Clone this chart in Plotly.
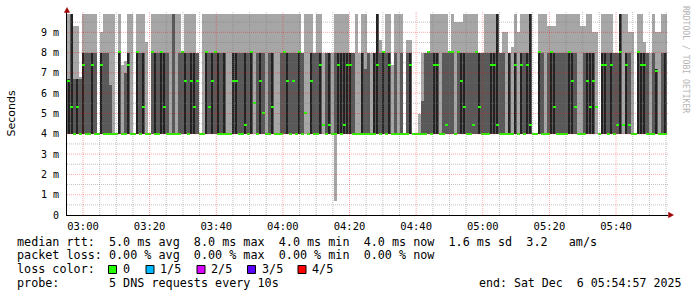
import numpy as np
import pandas as pd
import plotly.graph_objects as go

# ---------------- data (54 s bins) ----------------
rtt_max = [
    9.9, 9.9, 9.3, 9.3, 6.8, 9.9, 9.9, 9.9, 9.9, 9.9,
    4.0, 9.0, 9.9, 9.9, 9.9, 9.9, 4.0, 9.9, 7.4, 7.6,
    9.9, 9.9, 4.0, 9.9, 9.9, 9.9, 8.5, 4.0, 9.9, 9.9,
    9.9, 9.9, 9.9, 9.9, 9.9, 9.9, 9.9, 9.9, 8.0, 9.9,
    9.9, 9.9, 9.9, 8.0, 4.0, 9.9, 9.9, 9.9, 9.9, 9.9,
    9.9, 9.9, 9.9, 9.9, 9.9, 9.9, 9.9, 9.9, 9.9, 9.9,
    9.9, 9.9, 9.9, 9.9, 9.9, 9.9, 9.9, 9.9, 9.9, 9.9,
    9.9, 9.9, 9.9, 9.9, 9.9, 9.9, 9.9, 9.9, 8.0, 9.9,
    9.9, 9.9, 8.0, 9.9, 9.9, 8.0, 8.0, 8.0, 8.0, 9.9,
    9.9, 9.9, 9.9, 9.9, 8.0, 8.0, 9.9, 8.0, 9.9, 9.9,
    8.0, 8.0, 8.0, 9.9, 8.6, 8.0, 9.9, 9.9, 7.4, 9.9,
    9.9, 9.9, 4.0, 8.6, 8.6, 4.0, 4.0, 5.0, 8.0, 8.0,
    8.0, 9.9, 9.9, 9.9, 9.9, 9.9, 9.9, 8.0, 9.9, 9.5,
    9.5, 9.5, 9.9, 9.9, 9.9, 9.9, 9.9, 8.0, 8.0, 9.9,
    9.9, 9.9, 9.9, 9.9, 8.0, 9.0, 9.0, 8.0, 8.3, 9.9,
    9.0, 9.9, 9.9, 9.9, 9.9, 4.0, 4.0, 9.9, 9.9, 9.9,
    9.3, 9.3, 9.3, 9.9, 9.9, 9.9, 9.9, 9.9, 9.9, 9.9,
    9.9, 9.3, 9.3, 9.9, 9.9, 9.0, 9.0, 4.0, 9.9, 9.9,
    9.9, 9.9, 8.0, 8.0, 9.9, 9.9, 9.9, 9.0, 9.0, 4.0,
    9.9, 9.9, 8.5, 8.0, 8.0, 9.9, 9.0, 9.0, 9.9, 9.9,
]
rtt_p4 = [
    6.7, 9.9, 6.7, 6.7, 6.7, 8, 8, 8, 8, 8,
    4, 8, 8, 8, 6.4, 4, 4, 8, 4, 7.0,
    8, 4, 4, 8, 8, 8, 4, 4, 8, 8,
    8, 8, 8, 8, 4, 9.9, 4, 8, 8, 8,
    8, 8, 8, 8, 4, 4, 8, 8, 8, 8,
    8, 8, 8, 4, 4, 8, 8, 8, 8, 8,
    8, 8, 4, 8, 8, 8, 4, 8, 8, 4,
    4, 8, 8, 8, 8, 8, 8, 8, 8, 4,
    4, 8, 8, 8, 8, 4, 8, 8, 4, 8,
    8, 8, 8, 8, 8, 8, 4, 4, 8, 7.2,
    8, 4, 8, 9.9, 8, 8, 8, 8, 4, 8,
    4, 8, 4, 8, 8, 4, 4, 4, 5.6, 8,
    8, 8, 8, 8, 4, 8, 8, 8, 8, 4,
    8, 8, 8, 8, 8, 8, 8, 8, 8, 8,
    8, 8, 8, 9.9, 8, 8, 4, 8, 4, 8,
    4, 8, 8, 8, 9.9, 4, 4, 8, 8, 4,
    8, 8, 8, 8, 8, 8, 8, 8, 8, 8,
    4, 4, 8, 8, 8, 8, 4, 4, 8, 8,
    8, 8, 8, 8, 9.9, 4, 8, 8, 4, 4,
    8, 8, 8, 8, 4, 8, 7.2, 4, 8, 8,
]
rtt_dark = [
    6.7, 9.9, 4, 6.7, 4, 8, 4, 4, 8, 4,
    4, 8, 4, 4, 4, 4, 4, 8, 4, 4,
    8, 4, 4, 8, 4, 8, 4, 4, 4, 8,
    4, 8, 8, 4, 4, 4, 4, 4, 4, 8,
    4, 8, 8, 4, 4, 4, 8, 4, 8, 4,
    8, 4, 8, 4, 4, 8, 8, 4, 4, 8,
    4, 8, 4, 4, 8, 4, 4, 4, 8, 4,
    4, 4, 4, 8, 4, 4, 4, 8, 4, 4,
    4, 8, 4, 4, 8, 4, 4, 8, 4, 4,
    8, 8, 8, 8, 8, 4, 4, 4, 8, 4,
    4, 4, 8, 9.9, 4, 8, 4, 8, 4, 4,
    4, 4, 4, 4, 8, 4, 4, 4, 4, 4,
    4, 4, 8, 8, 4, 4, 4, 4, 4, 4,
    4, 8, 8, 4, 4, 4, 4, 8, 4, 4,
    4, 8, 8, 9.9, 4, 4, 4, 8, 4, 8,
    4, 8, 4, 8, 9.9, 4, 4, 8, 4, 4,
    4, 8, 8, 4, 4, 4, 4, 8, 8, 4,
    4, 4, 4, 8, 8, 8, 4, 4, 8, 8,
    4, 8, 4, 4, 9.9, 4, 8, 4, 4, 4,
    8, 8, 8, 4, 4, 4, 7.2, 4, 4, 8,
]
rtt_med = [
    6.6, 5.3, 4, 5.3, 4, 7.4, 4, 4, 7.4, 4,
    4, 7.4, 4, 4, 4, 4, 4, 8, 4, 4,
    7.4, 4, 4, 8, 4, 5.3, 4, 4, 8, 4,
    4, 8, 5.3, 4, 4, 4, 4, 4, 8, 6.6,
    4, 6.6, 5.3, 6.6, 4, 4, 8, 5.3, 6.6, 8,
    4, 4, 4, 4, 4, 6.6, 6.6, 4, 4, 4.4,
    4, 8, 5.5, 4, 6.6, 5.0, 4, 4, 5.3, 4,
    4, 4, 8, 6.6, 4, 6.6, 4, 8, 4, 5.0,
    4, 6.6, 4, 4, 7.4, 4.4, 4, 4.4, 4, 4,
    7.4, 4, 4.4, 7.4, 7.4, 4, 4, 4, 4, 4,
    4, 4, 4, 7.4, 4, 8, 4, 7.4, 4, 4,
    4, 4, 4, 4, 7.4, 4, 4, 4, 4, 4,
    8, 4, 7.4, 7.4, 4, 4, 4.4, 8, 8, 4,
    8, 6.6, 5.3, 4, 4, 4.4, 8, 5.3, 4, 4,
    4, 7.4, 7.4, 4.4, 4, 4, 4, 4, 4, 7.4,
    4, 7.4, 4, 7.4, 4.4, 4, 4, 8, 4, 4,
    4, 8, 5.3, 4, 4, 4, 4, 8, 6.6, 5.3,
    4, 4, 4, 6.6, 5.3, 6.6, 5.3, 4, 7.4, 7.4,
    4, 7.4, 4, 4.4, 8, 4.4, 7.4, 4.4, 4, 4,
    8, 7.4, 7.4, 4, 4, 4, 7.1, 4, 4, 4,
]
rtt_min = [4.0] * 89 + [0.7] + [4.0] * 110
rtt_p2 = [4.0] * 200

y_tick_vals = [0, 1, 2, 3, 4, 5, 6, 7, 8, 9]
y_tick_text = ["0", "1 m", "2 m", "3 m", "4 m", "5 m", "6 m", "7 m", "8 m", "9 m"]

legend_rtt = "median rtt:  5.0 ms avg  8.0 ms max  4.0 ms min  4.0 ms now  1.6 ms sd  3.2   am/s"
legend_loss = "packet loss: 0.00 % avg  0.00 % max  0.00 % min  0.00 % now"
loss_labels = ["0", "1/5", "2/5", "3/5", "4/5"]
loss_colors = ["#26ff00", "#00b8ff", "#d800ff", "#5a00ff", "#ff0000"]
probe_text = "probe:       5 DNS requests every 10s"
end_text = "end: Sat Dec  6 05:54:57 2025"

# ---------------- geometry ----------------
W, H = 697, 297
L, R, T, B = 67, 668, 12, 215
BIN_S = 54
start = pd.Timestamp("2025-12-06 02:55:12")
x_end = pd.Timestamp("2025-12-06 05:55:36")
times = start + pd.to_timedelta(BIN_S / 2 + BIN_S * np.arange(len(rtt_max)), unit="s")


def px(x):
    return (x - L) / (R - L)


def py(y):
    return (B - y) / (B - T)


nb = lambda s: s.replace(" ", "\u00a0")

lo = np.array(rtt_min)
hi = np.array(rtt_max)
p2 = np.array(rtt_p2)
p4 = np.array(rtt_p4)
dk = np.array(rtt_dark)
med = np.array(rtt_med)

fig = go.Figure()
fig.add_bar(x=times, base=lo, y=hi - lo, width=BIN_S * 1000,
            marker=dict(color="#a6a6a6", line=dict(width=0)), hoverinfo="skip")
fig.add_bar(x=times, base=p2, y=p4 - p2, width=BIN_S * 1000,
            marker=dict(color="#595959", line=dict(width=0)), hoverinfo="skip")
fig.add_bar(x=times, base=p2, y=dk - p2, width=BIN_S * 1000 * 2 / 3,
            marker=dict(color="#222222", line=dict(width=0)), hoverinfo="skip")
fig.add_bar(x=times, base=med - 0.04, y=[0.1] * len(med), width=BIN_S * 1000,
            marker=dict(color="#26ff00", line=dict(width=0)), hoverinfo="skip")

shapes = []
# grid on top (rrdtool style)
t = pd.Timestamp("2025-12-06 03:00:00")
while t <= x_end:
    major = (t.minute % 20 == 0)
    shapes.append(dict(type="line", xref="x", yref="paper", x0=t, x1=t, y0=0, y1=1,
                       layer="above",
                       line=dict(color="rgba(255,0,0,0.35)" if major else "rgba(120,120,120,0.45)",
                                 width=1, dash="1px,1px")))
    t += pd.Timedelta(minutes=5)
for k in range(1, 20):
    v = k * 0.5
    major = (k % 2 == 0)
    shapes.append(dict(type="line", xref="paper", yref="y", x0=0, x1=1, y0=v, y1=v,
                       layer="above",
                       line=dict(color="rgba(255,0,0,0.35)" if major else "rgba(120,120,120,0.45)",
                                 width=1, dash="1px,1px")))


def tri(pts):
    s = "M " + " L ".join(f"{px(a)},{py(b)}" for a, b in pts) + " Z"
    return dict(type="path", xref="paper", yref="paper", path=s, layer="above",
                fillcolor="#a00000", line=dict(color="#a00000", width=0.5))


shapes.append(tri([(64.3, 12.5), (69.7, 12.5), (67, 7.5)]))
shapes.append(tri([(668.5, 212.3), (668.5, 217.7), (673.5, 215)]))

# loss colour boxes
box_x = [108.5, 146.0, 197.0, 247.5, 298.0]
for bx, c in zip(box_x, loss_colors):
    shapes.append(dict(type="rect", xref="paper", yref="paper",
                       x0=px(bx), x1=px(bx + 8), y0=py(273.5), y1=py(265.5),
                       fillcolor=c, line=dict(color="black", width=1)))

mono = "DejaVu Sans Mono"
ann = []


def text(x, y, s, size=11.75, anchor="left", color="black", family=mono, angle=0):
    ann.append(dict(xref="paper", yref="paper", x=px(x), y=py(y), text=nb(s),
                    showarrow=False, xanchor=anchor, yanchor="middle", borderpad=0,
                    textangle=angle, font=dict(family=family, size=size, color=color)))


text(16, 241.7, legend_rtt)
text(16, 255.2, legend_loss)
text(16, 269.4, "loss color:")
for lx, s in zip([122, 159, 210, 261, 311], loss_labels):
    text(lx, 269.4, s)
text(16, 283.4, probe_text)
text(478, 283.4, end_text, size=11.6)
text(11, 113.5, "Seconds", size=11, anchor="center", family="DejaVu Sans", angle=-90)
text(686, 59, "RRDTOOL / TOBI OETIKER", size=8.1, anchor="center", color="#b4b4b4", angle=90)

fig.update_layout(
    width=W, height=H, margin=dict(l=L, r=W - R, t=T, b=H - B),
    paper_bgcolor="white", plot_bgcolor="white",
    barmode="overlay", bargap=0, showlegend=False,
    shapes=shapes, annotations=ann,
    font=dict(family=mono, size=10, color="black"),
)
fig.update_xaxes(type="date", range=[start, x_end], tick0="2025-12-06 03:00:00",
                 dtick=20 * 60 * 1000, tickformat="%H:%M", showgrid=False, zeroline=False,
                 showline=True, linecolor="black", linewidth=1, ticks="",
                 ticklabelstandoff=1, tickfont=dict(family=mono, size=10.5, color="black"))
fig.update_yaxes(range=[0, 10], tickvals=y_tick_vals, ticktext=y_tick_text, showgrid=False,
                 zeroline=False, showline=True, linecolor="black", linewidth=1, ticks="",
                 ticklabelstandoff=5, tickfont=dict(family=mono, size=10, color="black"))

fig.write_html("out.html")
